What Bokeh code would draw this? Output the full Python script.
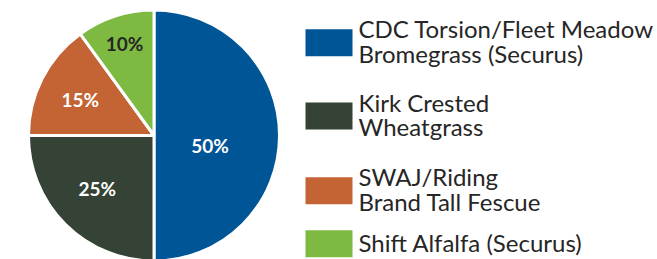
import math
from bokeh.plotting import figure
from bokeh.models import Range1d, ColumnDataSource
from bokeh.core.properties import value
from bokeh.embed import file_html
from bokeh.resources import INLINE

# ---- data ----
categories = ["CDC Torsion/Fleet Meadow\nBromegrass (Securus)",
              "Kirk Crested\nWheatgrass",
              "SWAJ/Riding\nBrand Tall Fescue",
              "Shift Alfalfa (Securus)"]
shares = [50, 25, 15, 10]
colors = ["#005596", "#344335", "#c46334", "#7eba42"]
label_colors = ["white", "white", "white", "#262626"]

# ---- layout (pixels) ----
W, H = 657, 259
CX, CY, R = 153.5, 124, 124
label_rf = [0.46, 0.627, 0.66, 0.776]
label_da = [-10.6, -1.8, 1.1, -0.2]
leg_x, leg_w, leg_h = 328.5, 47, 27
leg_y = [216.7, 143.5, 68.7, 15.7]
txt_x = 358
txt_dy = 1.5

p = figure(width=W, height=H, output_backend="svg", toolbar_location=None,
           x_range=Range1d(0, W), y_range=Range1d(0, H), min_border=0)
p.axis.visible = False
p.grid.visible = False
p.outline_line_color = None
p.background_fill_color = "white"
p.border_fill_color = "white"

total = sum(shares)
starts, ends, lx, ly = [], [], [], []
cum = 0
for i, s in enumerate(shares):
    a0 = math.pi / 2 - 2 * math.pi * cum / total
    cum += s
    a1 = math.pi / 2 - 2 * math.pi * cum / total
    starts.append(a0)
    ends.append(a1)
    mid = (a0 + a1) / 2 + math.radians(label_da[i])
    lx.append(CX + label_rf[i] * R * math.cos(mid))
    ly.append(CY + label_rf[i] * R * math.sin(mid))

src = ColumnDataSource(dict(start=starts, end=ends, color=colors,
                            lx=lx, ly=ly, lab=[f"{s}%" for s in shares],
                            lc=label_colors))
p.wedge(x=CX, y=CY, radius=R + 1.5, start_angle="start", end_angle="end",
        direction="clock", fill_color="color", line_color="white",
        line_width=3, source=src)
p.text(x="lx", y="ly", text="lab", text_color="lc", text_font=value("Lato"),
       text_font_style="bold", text_font_size="19px", text_align="center",
       text_baseline="middle", source=src)

lsrc = ColumnDataSource(dict(y=leg_y, ty=[v + txt_dy for v in leg_y],
                             color=colors, name=categories))
p.rect(x=leg_x, y="y", width=leg_w, height=leg_h, fill_color="color",
       line_color=None, source=lsrc)
p.text(x=txt_x, y="ty", text="name", text_color="#262626",
       text_font=value("Lato"), text_font_size="24px", text_align="left",
       text_baseline="middle", text_line_height=0.85, source=lsrc)

open("out.html", "w").write(file_html(p, INLINE))
